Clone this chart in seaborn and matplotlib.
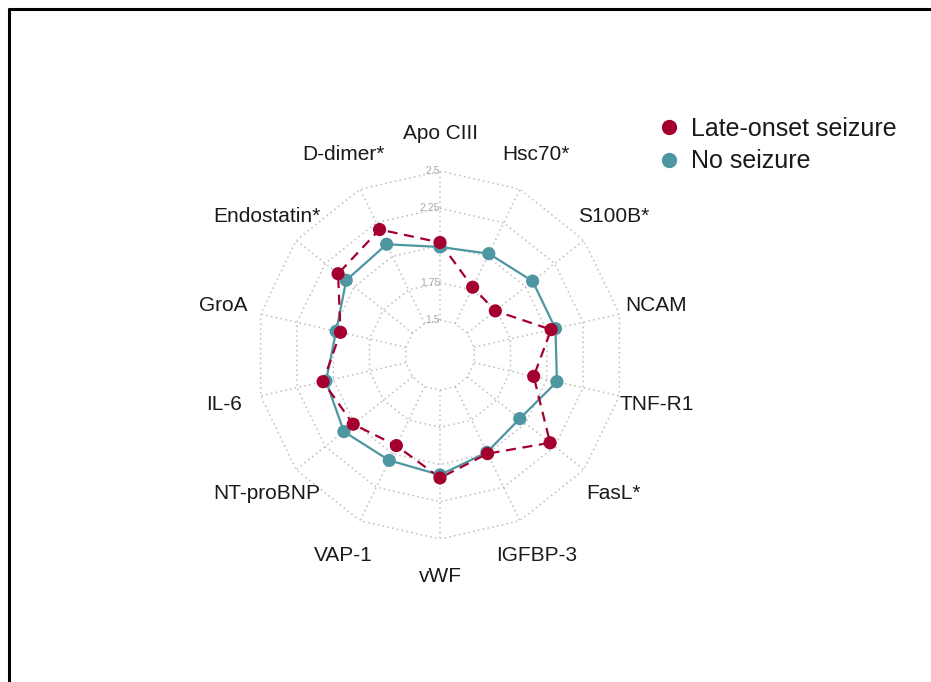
import seaborn as sns
import matplotlib.pyplot as plt
import numpy as np
import pandas as pd
from matplotlib.lines import Line2D

# markers, clockwise from the top
markers = ["Apo CIII", "Hsc70*", "S100B*", "NCAM", "TNF-R1", "FasL*", "IGFBP-3",
           "vWF", "VAP-1", "NT-proBNP", "IL-6", "GroA", "Endostatin*", "D-dimer*"]
late_onset = [2.02, 1.77, 1.74, 2.03, 1.91, 2.21, 2.00, 2.09, 1.94, 2.01, 2.07, 1.95, 2.14, 2.20]
no_seizure = [1.99, 2.02, 2.06, 2.06, 2.07, 1.95, 1.99, 2.07, 2.05, 2.09, 2.05, 1.98, 2.07, 2.09]
grid_levels = [1.5, 1.75, 2.0, 2.25, 2.5]
grid_labels = ["1.5", "1.75", "2", "2.25", "2.5"]
groups = ["No seizure", "Late-onset seizure"]

r_centre = 1.265   # value at the middle of the hole
label_r = 2.755

red = "#A3002F"
blue = "#4E96A2"

n = len(markers)
theta = np.linspace(0, 2 * np.pi, n, endpoint=False)
theta_closed = np.append(theta, theta[0])

rows = []
for g, vals in zip(groups, [no_seizure, late_onset]):
    vals_closed = list(vals) + [vals[0]]
    for i, (t, v) in enumerate(zip(theta_closed, vals_closed)):
        rows.append({"group": g, "theta": t, "value": v, "order": i})
df = pd.DataFrame(rows)

sns.set_style("white")
plt.rcParams['font.family'] = ['Liberation Sans', 'DejaVu Sans']

fig = plt.figure(figsize=(9.31, 6.82), dpi=100)

# centre at (440, 355) px, outer ring radius 184 px
cx, cy, rad = 440 / 931, 1 - 355 / 682, 184
ax = fig.add_axes([cx - rad / 931, cy - rad / 682, 2 * rad / 931, 2 * rad / 682],
                  projection='polar')
ax.set_theta_zero_location('N')
ax.set_theta_direction(-1)
ax.set_ylim(r_centre, 2.5)
ax.grid(False)
ax.set_xticks([])
ax.set_yticks([])
ax.spines['polar'].set_visible(False)
ax.patch.set_alpha(0)

# polygon grid and spokes
for lv in grid_levels:
    ax.plot(theta_closed, [lv] * (n + 1), ls=(0, (1, 2.2)), color='#BDBDBD', lw=1.1, zorder=1)
for t in theta:
    ax.plot([t, t], [grid_levels[0], grid_levels[-1]], ls=(0, (1, 2.2)),
            color='#BDBDBD', lw=1.1, zorder=1)
for lv, lab in zip(grid_levels, grid_labels):
    ax.text(0, lv, lab, ha='right', va='center', fontsize=7.5, color='#A8A8A8', zorder=2)

palette = {"Late-onset seizure": red, "No seizure": blue}
sns.lineplot(data=df, x="theta", y="value", hue="group", style="group",
             hue_order=groups, style_order=groups, palette=palette,
             dashes={"No seizure": "", "Late-onset seizure": (4.5, 3)},
             sort=False, estimator=None, units="group", lw=1.6, legend=False, ax=ax)
sns.scatterplot(data=df[df["order"] < n], x="theta", y="value", hue="group",
                hue_order=groups, palette=palette, s=90, linewidth=0,
                legend=False, ax=ax, zorder=4)
ax.set_xlabel('')
ax.set_ylabel('')
ax.set_ylim(r_centre, 2.5)

for t, lab in zip(theta, markers):
    ax.text(t, label_r, lab, ha='center', va='center', fontsize=15,
            color='#1A1A1A', clip_on=False)

# legend
handles = [Line2D([], [], marker='o', ls='', color=red, markersize=10),
           Line2D([], [], marker='o', ls='', color=blue, markersize=10)]
fig.legend(handles, ["Late-onset seizure", "No seizure"], loc='upper left',
           bbox_to_anchor=(641 / 931, 1 - 104 / 682), frameon=False,
           fontsize=18, handletextpad=0.3, labelspacing=0.35,
           borderpad=0, handlelength=1.2, labelcolor='#1A1A1A')

# screenshot frame (top and left)
fig.add_artist(Line2D([8.5 / 931, 1], [1 - 8.5 / 682, 1 - 8.5 / 682],
                      transform=fig.transFigure, color='black', lw=2.2))
fig.add_artist(Line2D([8.5 / 931, 8.5 / 931], [0, 1 - 8.5 / 682],
                      transform=fig.transFigure, color='black', lw=2.2))

plt.savefig("out.png", dpi=100)
